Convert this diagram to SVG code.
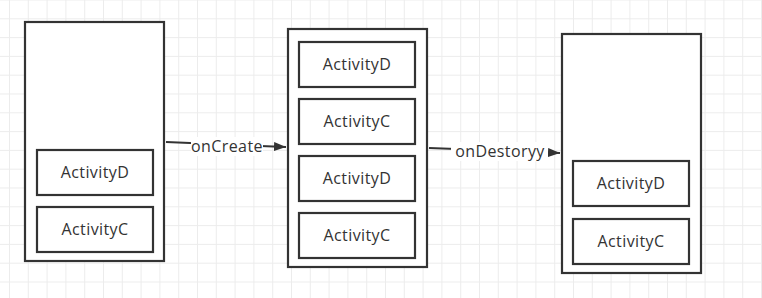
<svg xmlns="http://www.w3.org/2000/svg" width="762" height="298" viewBox="0 0 762 298">
<style>
.box{fill:#fff;stroke:#333;stroke-width:2.2}
.t{font-family:"Open Sans","Noto Sans",sans-serif;font-size:16px;letter-spacing:0.4px;fill:#333;text-anchor:middle}
.edge{stroke:#333;stroke-width:2;fill:none}
.lbl{fill:#fff}
</style>
<defs>
<pattern id="grid" patternUnits="userSpaceOnUse" x="9" y="18.3" width="18.8" height="18.8">
<path d="M0.5 0V18.8M0 0.5H18.8" stroke="#ececec" stroke-width="1" fill="none"/>
</pattern>
<marker id="arr" markerWidth="12" markerHeight="10" refX="12" refY="5" orient="auto" markerUnits="userSpaceOnUse">
<path d="M0 0.5L12 5L0 9.5Z" fill="#333"/>
</marker>
</defs>
<rect width="762" height="298" fill="#fff"/>
<rect width="762" height="298" fill="url(#grid)"/>
<g id="stack1">
<rect class="box" x="25" y="22" width="139" height="239"/>
<g id="s1-d"><rect class="box" x="37" y="150" width="116" height="45"/><text class="t" x="95" y="178">ActivityD</text></g>
<g id="s1-c"><rect class="box" x="37" y="207" width="116" height="45"/><text class="t" x="95" y="235">ActivityC</text></g>
</g>
<g id="stack2">
<rect class="box" x="288" y="29" width="139" height="238"/>
<g id="s2-d1"><rect class="box" x="299" y="42" width="116" height="45"/><text class="t" x="357" y="70">ActivityD</text></g>
<g id="s2-c1"><rect class="box" x="299" y="99" width="116" height="45"/><text class="t" x="357" y="127">ActivityC</text></g>
<g id="s2-d2"><rect class="box" x="299" y="156" width="116" height="45"/><text class="t" x="357" y="184">ActivityD</text></g>
<g id="s2-c2"><rect class="box" x="299" y="213" width="116" height="45"/><text class="t" x="357" y="241">ActivityC</text></g>
</g>
<g id="stack3">
<rect class="box" x="562" y="34" width="139" height="239"/>
<g id="s3-d"><rect class="box" x="573" y="161" width="116" height="45"/><text class="t" x="631" y="189">ActivityD</text></g>
<g id="s3-c"><rect class="box" x="573" y="219" width="116" height="45"/><text class="t" x="631" y="247">ActivityC</text></g>
</g>
<g id="connectors">
<g id="e1">
<line class="edge" x1="166" y1="142" x2="286" y2="147" marker-end="url(#arr)"/>
<rect class="lbl" x="191" y="137" width="72" height="19"/>
<text class="t" x="227" y="152">onCreate</text>
</g>
<g id="e2">
<line class="edge" x1="429" y1="148" x2="560" y2="153" marker-end="url(#arr)"/>
<rect class="lbl" x="451" y="142" width="97" height="19"/>
<text class="t" x="500" y="157">onDestoryy</text>
</g>
</g>
</svg>
